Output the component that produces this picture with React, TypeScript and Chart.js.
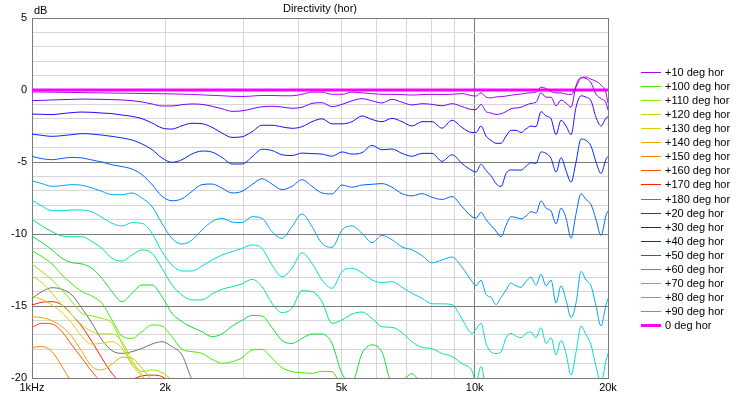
import React, { useEffect, useRef } from 'react';
import { Chart, registerables } from 'chart.js';

Chart.register(...registerables);

// ---- data (frequency grid in Hz, levels in dB) ----
const FREQS = [
  1000, 1053, 1110, 1169, 1231, 1297, 1366, 1439, 1516, 1597,
  1682, 1772, 1867, 1966, 2071, 2182, 2298, 2421, 2550, 2686,
  2830, 2981, 3140, 3307, 3484, 3670, 3866, 4072, 4290, 4519,
  4760, 5014, 5282, 5564, 5861, 6174, 6503, 6851, 7217, 7602,
  8008, 8435, 8886, 9360, 9860, 10068, 10333, 10606, 10885, 11172,
  11467, 11769, 12079, 12398, 12724, 13059, 13403, 13756, 14118, 14490,
  14872, 15264, 15666, 16078, 16502, 16936, 17383, 17840, 18310, 18793,
  19288, 19796, 20000,
];
const ZERO_FREQS = [1000, 20000];

const DEG0 = [0, 0];
const P10 = [
  -0.14, -0.14, -0.15, -0.16, -0.17, -0.18, -0.19, -0.2, -0.21, -0.22,
  -0.23, -0.24, -0.25, -0.26, -0.27, -0.29, -0.31, -0.34, -0.37, -0.4,
  -0.44, -0.45, -0.42, -0.38, -0.38, -0.4, -0.4, -0.3, -0.15, -0.15,
  -0.3, -0.3, -0.15, -0.2, -0.25, -0.3, -0.3, -0.32, -0.35, -0.32,
  -0.3, -0.32, -0.3, -0.25, -0.4, -0.42, -0.2, -0.5, -0.55, -0.48,
  -0.46, -0.42, -0.36, -0.32, -0.28, -0.22, -0.19, -0.15, 0.2, 0.1,
  -0.1, -0.2, -0.2, -0.28, -0.32, 0.2, 0.85, 0.9, 0.75, 0.6,
  0.35, -0.2, -0.9,
];
const P20 = [
  -0.74, -0.72, -0.69, -0.67, -0.65, -0.63, -0.64, -0.65, -0.67, -0.69,
  -0.74, -0.83, -0.97, -1.11, -1.11, -1.02, -0.97, -1.0, -1.13, -1.3,
  -1.48, -1.45, -1.3, -1.16, -1.13, -1.18, -1.27, -1.2, -0.93, -0.88,
  -1.16, -1.0, -0.75, -0.6, -0.75, -0.9, -0.65, -0.85, -1.04, -0.95,
  -1.0, -1.1, -0.95, -1.15, -1.35, -1.35, -1.0, -1.5, -1.6, -1.7,
  -1.65, -1.5, -1.3, -1.25, -1.2, -1.05, -0.93, -0.85, -0.2, -0.5,
  -0.5, -1.1, -0.7, -0.9, -1.2, 0.3, 0.85, 0.8, 0.5, -0.3,
  -0.6, -0.9, -1.4,
];
const P30 = [
  -1.67, -1.69, -1.71, -1.64, -1.57, -1.53, -1.55, -1.6, -1.64, -1.74,
  -1.83, -1.99, -2.29, -2.64, -2.71, -2.48, -2.31, -2.34, -2.59, -2.99,
  -3.29, -3.25, -2.9, -2.45, -2.45, -2.56, -2.66, -2.55, -2.2, -2.0,
  -2.35, -2.35, -2.2, -1.8, -2.05, -2.2, -1.97, -2.2, -2.5, -2.2,
  -2.2, -2.65, -2.1, -2.6, -2.95, -2.95, -2.5, -3.2, -3.5, -3.7,
  -3.7, -3.2, -2.8, -2.8, -2.95, -2.7, -2.5, -2.55, -1.5, -1.8,
  -2.0, -3.1, -2.1, -2.5, -3.1, -1.2, -0.4, -0.5, -0.75, -1.9,
  -2.5, -1.95, -1.85,
];
const P40 = [
  -3.06, -3.15, -3.22, -3.17, -3.1, -3.03, -3.06, -3.13, -3.22, -3.33,
  -3.47, -3.75, -4.14, -4.72, -5.02, -4.84, -4.44, -4.24, -4.31, -4.68,
  -5.14, -5.14, -4.65, -4.12, -4.2, -4.5, -4.55, -4.38, -4.42, -4.45,
  -4.6, -4.3, -4.45, -4.35, -3.85, -4.15, -4.1, -4.4, -4.6, -4.4,
  -4.4, -4.95, -4.5, -5.1, -5.6, -5.7, -5.15, -5.6, -5.95, -6.5,
  -6.7, -5.8, -5.55, -5.56, -5.56, -5.3, -5.05, -5.1, -4.3, -4.4,
  -4.75, -5.7, -4.7, -5.6, -6.4, -5.0, -3.4, -3.5, -3.9, -5.0,
  -5.8, -4.8, -4.6,
];
const P50 = [
  -4.61, -4.77, -4.84, -4.75, -4.68, -4.72, -4.86, -5.0, -5.19, -5.32,
  -5.49, -5.88, -6.57, -7.38, -7.69, -7.55, -7.04, -6.57, -6.53, -6.81,
  -7.15, -7.04, -6.57, -6.16, -6.53, -6.92, -6.69, -6.23, -6.69, -7.15,
  -7.22, -6.6, -6.75, -6.6, -6.55, -6.5, -6.75, -7.2, -7.35, -7.2,
  -7.45, -7.6, -7.4, -8.1, -8.8, -8.9, -8.5, -9.0, -9.4, -9.8,
  -10.2, -9.4, -8.8, -8.85, -8.95, -8.75, -8.45, -8.55, -7.7, -8.2,
  -8.4, -9.3, -8.2, -8.9, -10.3, -8.6, -7.2, -7.6, -7.95, -9.0,
  -10.1, -8.7, -8.4,
];
const P60 = [
  -6.3, -6.5, -6.69, -6.64, -6.57, -6.62, -6.8, -7.04, -7.27, -7.27,
  -7.15, -7.5, -8.1, -9.26, -10.3, -10.7, -10.42, -9.72, -9.14, -8.91,
  -9.17, -9.21, -8.8, -8.91, -9.84, -10.3, -9.49, -8.61, -9.49, -10.65,
  -10.93, -9.72, -9.44, -9.95, -10.6, -10.1, -10.4, -10.9, -11.1, -11.5,
  -12.0, -11.8, -11.6, -12.3, -13.3, -13.6, -13.2, -14.2, -14.4, -14.9,
  -14.4, -13.9, -13.4, -13.6, -13.7, -13.3, -13.0, -13.54, -12.8, -13.6,
  -13.2, -14.8, -13.6, -14.6, -15.8, -14.8, -12.6, -13.2, -13.6, -15.0,
  -16.4, -14.9, -14.5,
];
const P70 = [
  -7.64, -8.06, -8.38, -8.38, -8.33, -8.33, -8.47, -8.84, -9.26, -9.44,
  -9.21, -9.26, -9.95, -11.23, -12.15, -12.57, -12.57, -12.22, -11.81, -11.46,
  -11.23, -11.0, -10.76, -11.0, -12.15, -12.96, -12.38, -11.3, -12.04, -13.19,
  -13.77, -12.62, -12.38, -12.69, -13.19, -13.38, -13.31, -13.7, -14.12, -14.47,
  -14.85, -14.85, -14.9, -15.9, -16.9, -16.6, -16.2, -17.6, -18.2, -18.3,
  -18.2, -17.2, -16.9, -17.1, -17.2, -16.9, -16.8, -17.2, -16.5, -17.6,
  -17.2, -18.4, -17.4, -18.3, -19.8, -18.2, -16.4, -17.0, -17.7, -19.2,
  -20.3, -18.8, -18.3,
];
const P80 = [
  -8.98, -9.44, -9.84, -10.14, -10.19, -10.19, -10.53, -11.0, -11.69, -11.88,
  -11.46, -11.11, -11.34, -12.38, -13.54, -14.24, -14.58, -14.58, -14.17, -13.84,
  -13.66, -13.47, -13.15, -13.66, -14.81, -15.46, -15.16, -13.94, -14.0, -14.7,
  -16.2, -15.97, -15.56, -15.42, -15.86, -16.44, -16.48, -16.85, -17.48, -17.87,
  -17.96, -18.3, -18.5, -19.0, -19.5, -20.3, -19.2, -21.0,
];
const P90 = [
  -10.14, -10.6, -11.11, -11.69, -11.99, -12.08, -12.38, -13.08, -14.0, -14.7,
  -14.12, -13.54, -13.54, -14.35, -15.51, -16.09, -16.48, -16.78, -17.13, -16.94,
  -16.4, -16.0, -15.65, -15.7, -16.5, -17.4, -17.6, -17.25, -16.95, -16.95,
  -17.6, -19.7, -20.3, -18.3, -17.7, -18.2, -20.3, -20.2, -19.7, -20.6,
  -21.5,
];
const P100 = [
  -11.16, -11.57, -12.08, -12.85, -13.47, -14.0, -14.31, -14.81, -15.97, -17.08,
  -17.25, -16.78, -16.32, -16.39, -17.13, -18.01, -18.17, -18.29, -18.7, -18.98,
  -18.87, -18.59, -18.06, -18.01, -18.63, -19.28, -19.56, -19.63, -19.68, -19.54,
  -19.56, -20.8,
];
const P110 = [-12.08, -12.62, -13.19, -13.89, -14.7, -15.51, -15.69, -15.86, -16.2, -17.59, -18.98, -19.56, -19.44, -19.63, -20.14, -20.8];
const P120 = [-12.9, -13.38, -14.12, -14.93, -15.62, -16.32, -16.78, -16.94, -16.94, -17.48, -18.75, -19.79, -20.8];
const P130 = [-14.31, -14.54, -14.93, -15.46, -16.2, -17.13, -17.64, -17.59, -17.48, -17.94, -19.1, -19.91, -20.8];
const P140 = [-15.74, -15.81, -16.02, -16.44, -17.13, -18.17, -19.21, -19.44, -19.03, -18.56, -18.63, -19.33, -20.14, -20.8];
const P150 = [-17.87, -17.82, -18.17, -19.21, -20.37];
const P160 = [-16.48, -16.2, -16.25, -16.78, -17.71, -18.63, -19.56, -20.37];
const P170 = [-14.93, -14.74, -14.7, -14.93, -15.62, -16.44, -17.48, -18.63, -19.68, -20.3, -20.1, -19.85, -19.8, -19.9, -20.5];
const P180 = [-14.47, -14.0, -13.73, -13.84, -14.24, -15.16, -16.2, -17.36, -18.1, -18.29, -18.17, -17.94, -17.64, -17.48, -17.82, -18.4, -20.1, -21.0];

const SERIES_LABELS = [
  '+10 deg hor', '+100 deg hor', '+110 deg hor', '+120 deg hor', '+130 deg hor',
  '+140 deg hor', '+150 deg hor', '+160 deg hor', '+170 deg hor', '+180 deg hor',
  '+20 deg hor', '+30 deg hor', '+40 deg hor', '+50 deg hor', '+60 deg hor',
  '+70 deg hor', '+80 deg hor', '+90 deg hor', '0 deg hor',
];
const SERIES_VALUES = [
  P10, P100, P110, P120, P130, P140, P150, P160, P170, P180,
  P20, P30, P40, P50, P60, P70, P80, P90, DEG0,
];
const SERIES_COLORS = [
  '#b000ff', '#40ee00', '#80f000', '#b8e000', '#e0d000',
  '#f0a800', '#ff8000', '#ff5000', '#ff2000', '#707070',
  '#7c00ff', '#3000ff', '#0028ff', '#0064ff', '#00a8f0',
  '#00dcd0', '#00e880', '#10e030', '#ff00ff',
];

const X_TICKS = [1000, 2000, 3000, 4000, 5000, 6000, 7000, 8000, 9000, 10000, 20000];
const X_TICK_LABELS: Record<number, string> = { 1000: '1kHz', 2000: '2k', 5000: '5k', 10000: '10k', 20000: '20k' };
const X_MAJOR = [1000, 10000, 20000];
const Y_MIN = -20;
const Y_MAX = 5;
const Y_LABEL_STEP = 5;

const FONT = '"Liberation Sans", Arial, sans-serif';
const DARK = '#7a7a7a';
const LIGHT = '#d6d6d6';

const sideLegend = {
  id: 'sideLegend',
  afterDraw(chart: any) {
    const { ctx, chartArea } = chart;
    ctx.save();
    ctx.font = `11px ${FONT}`;
    ctx.textBaseline = 'middle';
    ctx.textAlign = 'left';
    const x0 = chartArea.right + 33;
    chart.data.datasets.forEach((ds: any, i: number) => {
      const y = Math.round(72 + i * 14.06);
      const h = ds.borderWidth > 1 ? 3 : 1;
      ctx.fillStyle = ds.borderColor;
      ctx.fillRect(x0, y - Math.floor(h / 2), 20, h);
      ctx.fillStyle = '#000';
      ctx.fillText(ds.label, x0 + 24, y + 0.5);
    });
    ctx.fillStyle = '#000';
    ctx.fillText('dB', chartArea.left + 2, chartArea.top - 7);
    ctx.restore();
  },
};

export default function App() {
  const ref = useRef<HTMLCanvasElement | null>(null);

  useEffect(() => {
    document.body.style.margin = '0';
    const canvas = ref.current;
    if (!canvas) return;
    const datasets = SERIES_VALUES.map((vals, i) => {
      const fr = vals === DEG0 ? ZERO_FREQS : FREQS;
      return {
        label: SERIES_LABELS[i],
        data: vals.map((v, j) => ({ x: fr[j], y: v })),
        borderColor: SERIES_COLORS[i],
        backgroundColor: SERIES_COLORS[i],
        borderWidth: vals === DEG0 ? 3 : 1,
        pointRadius: 0,
        fill: false,
        cubicInterpolationMode: 'monotone' as const,
      };
    });
    const chart = new Chart(canvas, {
      type: 'line',
      data: { datasets },
      plugins: [sideLegend],
      options: {
        animation: false,
        responsive: false,
        devicePixelRatio: 1,
        layout: { padding: { left: 0, right: 130, top: 0, bottom: 0 } },
        plugins: {
          legend: { display: false },
          tooltip: { enabled: false },
          title: {
            display: true,
            text: 'Directivity (hor)',
            color: '#000',
            font: { family: FONT, size: 11, weight: 'normal' },
            padding: { top: 2, bottom: 2.8 },
            fullSize: false,
          },
        },
        scales: {
          x: {
            type: 'logarithmic',
            min: 1000,
            max: 20000,
            afterBuildTicks: (scale: any) => {
              scale.ticks = X_TICKS.map((v) => ({ value: v }));
            },
            afterFit: (scale: any) => {
              scale.height = 18;
            },
            ticks: {
              autoSkip: false,
              maxRotation: 0,
              minRotation: 0,
              padding: 3,
              color: '#000',
              font: { family: FONT, size: 11 },
              callback: (v: any) => X_TICK_LABELS[Number(v)] ?? '',
            },
            grid: {
              drawTicks: false,
              color: (c: any) => (X_MAJOR.includes(c.tick?.value) ? DARK : LIGHT),
              lineWidth: 1,
            },
            border: { display: true, color: DARK },
          },
          y: {
            type: 'linear',
            min: Y_MIN,
            max: Y_MAX,
            afterFit: (scale: any) => {
              scale.width = 32;
            },
            ticks: {
              stepSize: 1,
              autoSkip: false,
              padding: 5,
              color: '#000',
              font: { family: FONT, size: 11 },
              callback: (v: any) => (Number(v) % Y_LABEL_STEP === 0 ? String(v) : ''),
            },
            grid: {
              drawTicks: false,
              color: (c: any) => (c.tick && c.tick.value % Y_LABEL_STEP === 0 ? DARK : LIGHT),
              lineWidth: 1,
            },
            border: { display: true, color: DARK },
          },
        },
      },
    });
    return () => chart.destroy();
  }, []);

  return (
    <div style={{ width: 738, height: 396 }}>
      <canvas ref={ref} width={738} height={396} style={{ display: 'block' }} />
    </div>
  );
}
